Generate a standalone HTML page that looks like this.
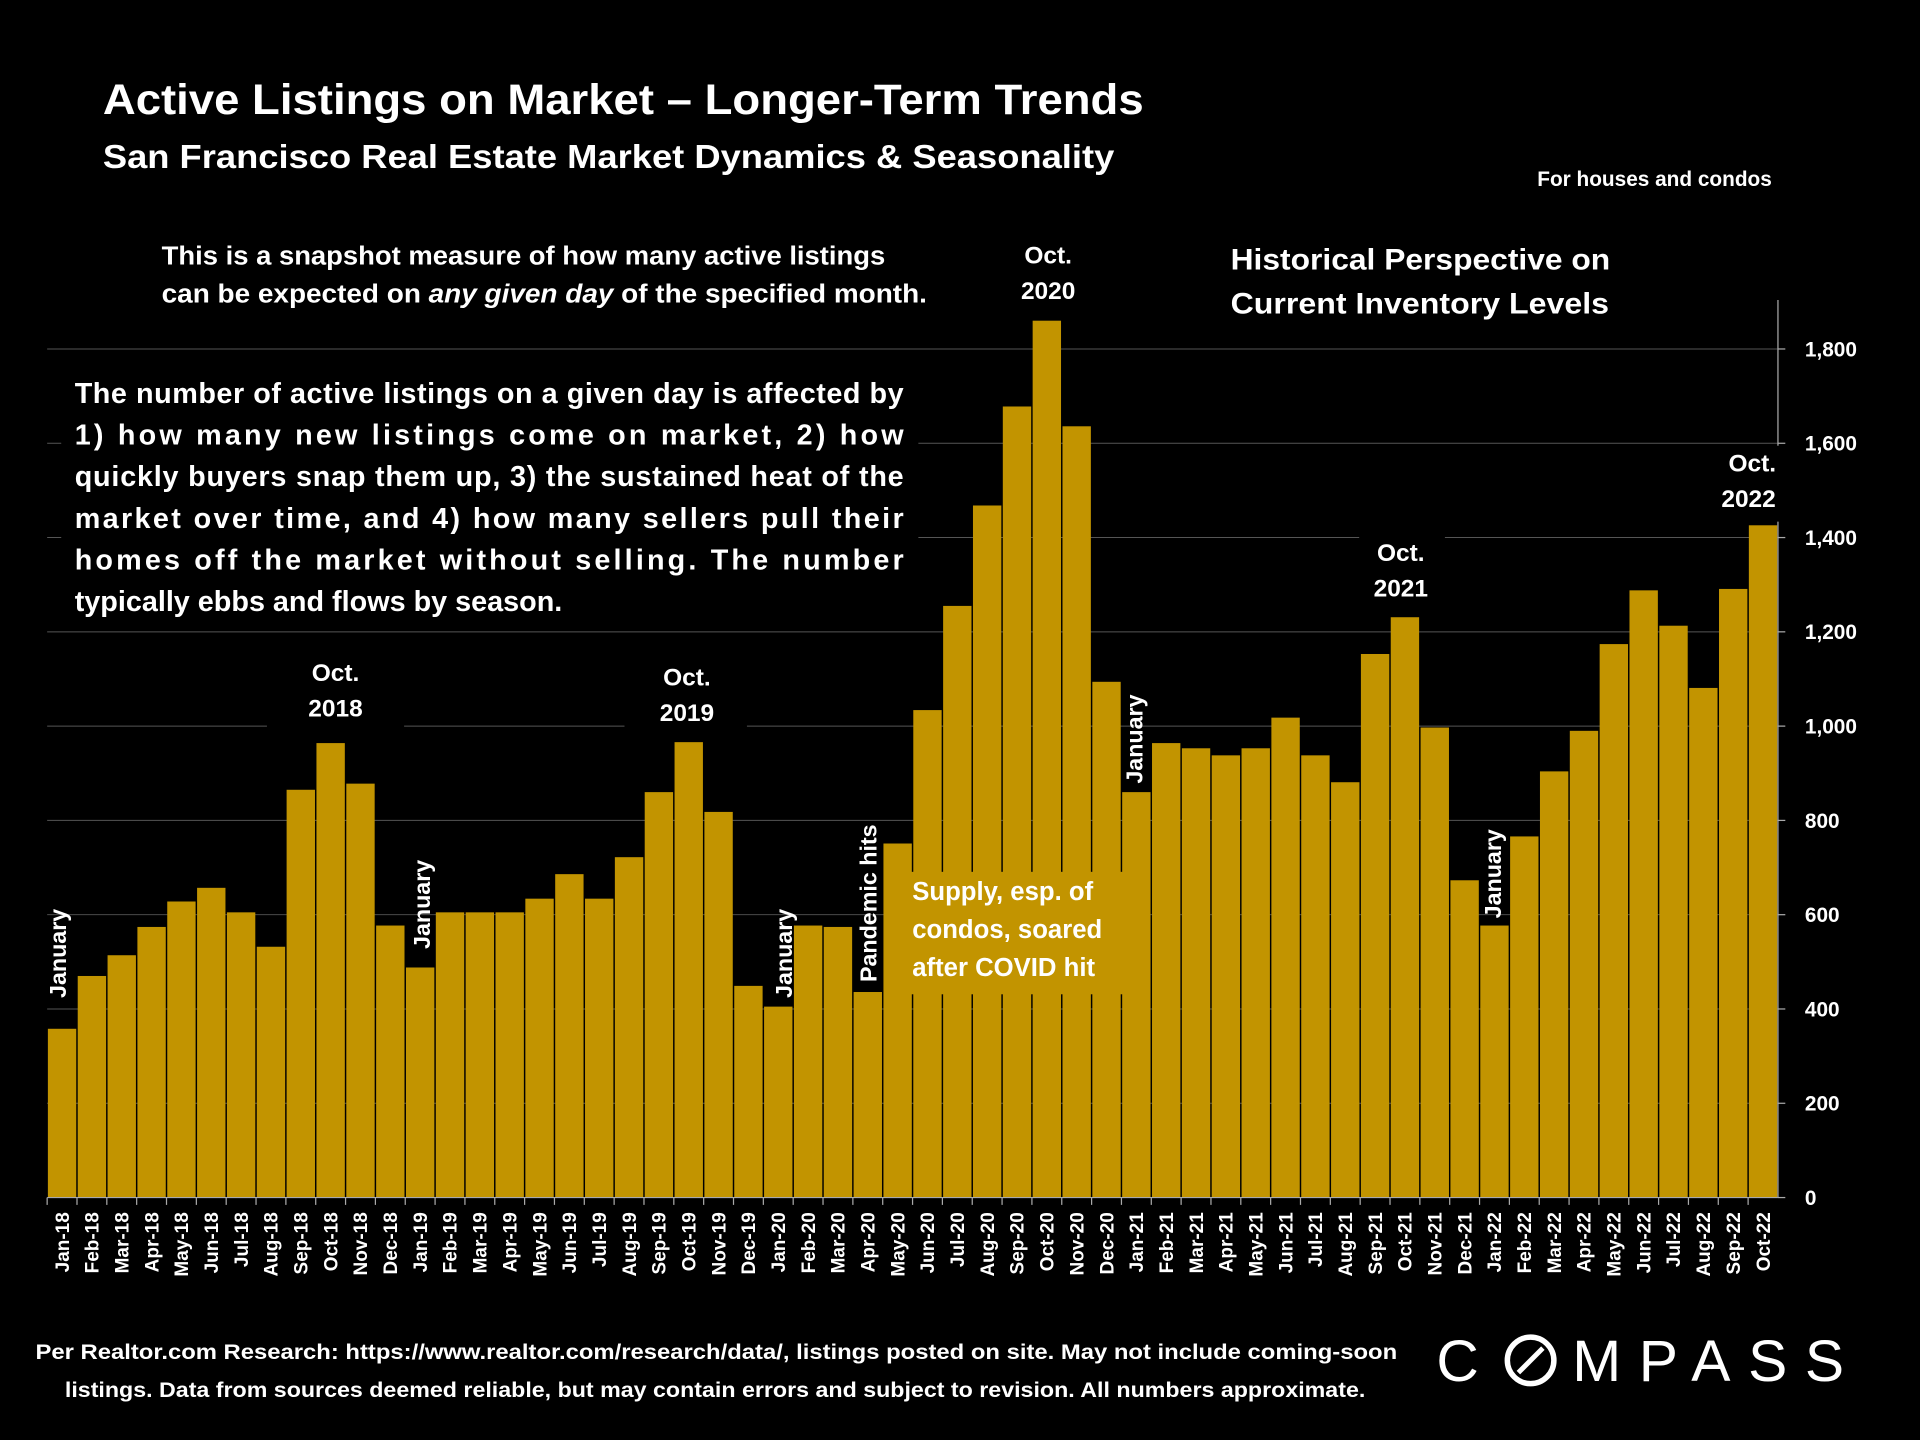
<!DOCTYPE html>
<html><head><meta charset="utf-8"><style>
html,body{margin:0;padding:0;background:#000;width:1920px;height:1440px;overflow:hidden}
svg{display:block}
text{font-family:"Liberation Sans",sans-serif;fill:#fff;font-weight:bold}
</style></head><body>
<svg id="chart" width="1920" height="1440" viewBox="0 0 1568 1176" xmlns="http://www.w3.org/2000/svg">
<rect width="1568" height="1176" fill="#000"/>
<text x="84" y="93" font-size="35" textLength="850" lengthAdjust="spacingAndGlyphs">Active Listings on Market – Longer-Term Trends</text>
<text x="84" y="137" font-size="27" textLength="826" lengthAdjust="spacingAndGlyphs">San Francisco Real Estate Market Dynamics &amp; Seasonality</text>
<text x="1447" y="152" font-size="17" text-anchor="end">For houses and condos</text>
<g id="grid"></g>
<g id="bars"></g>
<g id="axes"></g>
<g>
<rect x="120" y="190" width="650" height="70" fill="#000"/>
<text font-size="21"><tspan x="132" y="216" textLength="591" lengthAdjust="spacingAndGlyphs">This is a snapshot measure of how many active listings</tspan><tspan x="132" y="247" textLength="625" lengthAdjust="spacingAndGlyphs">can be expected on <tspan font-style="italic">any given day</tspan> of the specified month.</tspan></text>
<rect x="990" y="190" width="340" height="80" fill="#000"/>
<text font-size="24"><tspan x="1005" y="220" textLength="310" lengthAdjust="spacingAndGlyphs">Historical Perspective on</tspan><tspan x="1005" y="256" textLength="309" lengthAdjust="spacingAndGlyphs">Current Inventory Levels</tspan></text>
<rect x="50" y="300" width="700" height="215" fill="#000"/>
<text font-size="23.5"><tspan x="61" y="329" textLength="677" lengthAdjust="spacing">The number of active listings on a given day is affected by</tspan><tspan x="61" y="363" textLength="677" lengthAdjust="spacing">1) how many new listings come on market, 2) how</tspan><tspan x="61" y="397" textLength="677" lengthAdjust="spacing">quickly buyers snap them up, 3) the sustained heat of the</tspan><tspan x="61" y="431" textLength="677" lengthAdjust="spacing">market over time, and 4) how many sellers pull their</tspan><tspan x="61" y="465" textLength="677" lengthAdjust="spacing">homes off the market without selling. The number</tspan><tspan x="61" y="499">typically ebbs and flows by season.</tspan></text>
<rect x="218" y="535" width="112" height="62" fill="#000"/>
<text font-size="20" text-anchor="middle"><tspan x="274" y="556">Oct.</tspan><tspan x="274" y="585">2018</tspan></text>
<rect x="510" y="540" width="100" height="62" fill="#000"/>
<text font-size="20" text-anchor="middle"><tspan x="561" y="560">Oct.</tspan><tspan x="561" y="589">2019</tspan></text>
<text font-size="20" text-anchor="middle"><tspan x="856" y="215">Oct.</tspan><tspan x="856" y="244">2020</tspan></text>
<rect x="1110" y="436" width="70" height="62" fill="#000"/>
<text font-size="20" text-anchor="middle"><tspan x="1144" y="458">Oct.</tspan><tspan x="1144" y="487">2021</tspan></text>
<rect x="1400" y="364" width="60" height="62" fill="#000"/>
<text font-size="20" text-anchor="middle"><tspan x="1431" y="385">Oct.</tspan><tspan x="1428" y="414">2022</tspan></text>
<text font-size="19" transform="translate(54,815) rotate(-90)">January</text>
<text font-size="19" transform="translate(351,775) rotate(-90)">January</text>
<text font-size="19" transform="translate(647,815) rotate(-90)">January</text>
<text font-size="19" transform="translate(716,802) rotate(-90)">Pandemic hits</text>
<text font-size="19" transform="translate(933,640) rotate(-90)">January</text>
<text font-size="19" transform="translate(1226,750) rotate(-90)">January</text>
<rect x="737" y="712" width="180" height="100" fill="#C29400"/>
<text font-size="21"><tspan x="745" y="735">Supply, esp. of</tspan><tspan x="745" y="766">condos, soared</tspan><tspan x="745" y="797">after COVID hit</tspan></text>
</g>
<text font-size="17"><tspan x="29" y="1110" textLength="1112" lengthAdjust="spacingAndGlyphs">Per Realtor.com Research:  https://www.realtor.com/research/data/, listings posted on site. May not include coming-soon</tspan><tspan x="53" y="1141" textLength="1062" lengthAdjust="spacingAndGlyphs">listings. Data from sources deemed reliable, but may contain errors and subject to revision. All numbers approximate.</tspan></text>
<g>
<text x="1173" y="1128" font-size="48" style="font-weight:normal">C</text>
<circle cx="1250" cy="1111" r="19" fill="none" stroke="#fff" stroke-width="4.5"/>
<line x1="1240" y1="1121" x2="1260" y2="1101" stroke="#fff" stroke-width="4"/>
<text x="1284" y="1128" font-size="48" textLength="222" lengthAdjust="spacing" style="font-weight:normal">MPASS</text>
</g>
</svg>
<script>
const months = ["Jan","Feb","Mar","Apr","May","Jun","Jul","Aug","Sep","Oct","Nov","Dec"];
const categories = [];
for (let y = 18; y <= 22; y++) for (let m = 0; m < 12; m++) { if (y === 22 && m > 9) break; categories.push(months[m] + "-" + y); }
const listings = [358,470,514,574,628,657,605,532,865,964,878,577,
488,605,605,605,634,686,634,722,860,966,818,449,
405,577,574,436,751,1034,1255,1468,1678,1860,1636,1094,
860,964,953,938,953,1018,938,881,1153,1231,997,673,
577,766,904,990,1174,1288,1213,1081,1291,1426];
const yTicks = [0,200,400,600,800,1000,1200,1400,1600,1800];
const yTickLabels = ["0","200","400","600","800","1,000","1,200","1,400","1,600","1,800"];

const NS = "http://www.w3.org/2000/svg";
const X0 = 38.5, X1 = 1452, Y0 = 978, YMAX = 1800, YTOP = 285;
const pitch = (X1 - X0) / categories.length;
const xPos = i => X0 + i * pitch;
const yPos = v => Y0 - v / YMAX * (Y0 - YTOP);
function mk(tag, attrs, parent) { const e = document.createElementNS(NS, tag); for (const k in attrs) e.setAttribute(k, attrs[k]); parent.appendChild(e); return e; }
const grid = document.getElementById("grid"), bars = document.getElementById("bars"), axes = document.getElementById("axes");
yTicks.forEach((t, i) => {
  if (t > 0) {
    const g = mk("line", {x1: X0, x2: X1, y1: yPos(t), y2: yPos(t), stroke: "#555", "stroke-width": 0.8}, grid);
    
    
  }
  mk("line", {x1: X1, x2: X1 + 6, y1: yPos(t), y2: yPos(t), stroke: "#aaa", "stroke-width": 1}, axes);
  const lb = mk("text", {x: 1474, y: yPos(t) + 6, "font-size": 17}, axes);
  lb.textContent = yTickLabels[i];
  
  
});
listings.forEach((v, i) => {
  const r = mk("rect", {x: xPos(i) + 0.6, y: yPos(v), width: pitch - 1.2, height: Y0 - yPos(v), fill: "#C29400"}, bars);
  
  
  mk("line", {x1: xPos(i), x2: xPos(i), y1: Y0, y2: Y0 + 6, stroke: "#aaa", "stroke-width": 1}, axes);
  const t = mk("text", {"font-size": 15.5, "text-anchor": "end", transform: "translate(" + (xPos(i) + pitch / 2 + 5.5) + "," + (Y0 + 12) + ") rotate(-90)"}, axes);
  t.textContent = categories[i];
  
  
});
mk("line", {x1: X0, x2: X1, y1: Y0, y2: Y0, stroke: "#aaa", "stroke-width": 1}, axes);
mk("line", {x1: X1, x2: X1, y1: 245, y2: Y0, stroke: "#aaa", "stroke-width": 1}, axes);
</script>
</body></html>
